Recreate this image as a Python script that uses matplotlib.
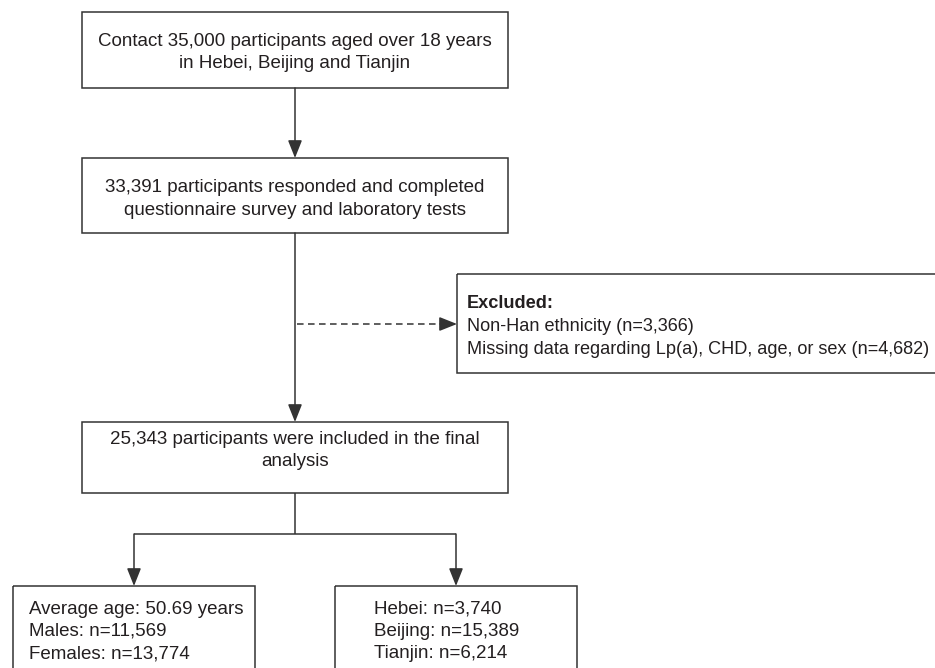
import matplotlib
matplotlib.use("Agg")
import matplotlib.pyplot as plt
from matplotlib.patches import Rectangle

plt.rcParams['font.family'] = ['Liberation Sans', 'DejaVu Sans']

# ---- content ----
box1_text = ["Contact 35,000 participants aged over 18 years", "in Hebei, Beijing and Tianjin"]
box2_text = ["33,391 participants responded and completed", "questionnaire survey and laboratory tests"]
excl_title = "Excluded:"
excl_text = ["Non-Han ethnicity (n=3,366)", "Missing data regarding Lp(a), CHD, age, or sex (n=4,682)"]
box3_text = ["25,343 participants were included in the final", "analysis"]
box4_text = ["Average age: 50.69 years", "Males: n=11,569", "Females: n=13,774"]
box5_text = ["Hebei: n=3,740", "Beijing: n=15,389", "Tianjin: n=6,214"]

W, H = 935, 668
fig = plt.figure(figsize=(W / 100, H / 100), dpi=100)
ax = fig.add_axes([0, 0, 1, 1])
ax.set_xlim(0, W)
ax.set_ylim(H, 0)
ax.axis('off')

LC = '#333333'
TC = '#231f20'
LW = 1.1
FS = 13.5
LS = 1.4

def box(x0, y0, x1, y1):
    ax.add_patch(Rectangle((x0, y0), x1 - x0, y1 - y0, fill=False,
                           edgecolor=LC, linewidth=LW, clip_on=True))

def arrow(x0, y0, x1, y1):
    ax.annotate('', xy=(x1, y1), xytext=(x0, y0),
                arrowprops=dict(arrowstyle='-|>,head_length=1.08,head_width=0.43',
                                mutation_scale=10, color=LC, lw=LW,
                                shrinkA=0, shrinkB=0))

def line(xs, ys, **kw):
    ax.plot(xs, ys, color=LC, lw=LW, solid_capstyle='butt', **kw)

# boxes
box(82, 12, 508, 88)
box(82, 158, 508, 233)
box(457, 274, 1000, 373)
box(82, 422, 508, 493)
box(13, 586, 255, 700)
box(335, 586, 577, 700)

# texts
ax.text(295, 52.5, "\n".join(box1_text), ha='center', va='center', fontsize=FS,
        color=TC, linespacing=LS)
ax.text(295, 199, "\n".join(box2_text), ha='center', va='center', fontsize=FS,
        color=TC, linespacing=LS)
ax.text(295, 450.5, "\n".join(box3_text), ha='center', va='center', fontsize=FS,
        color=TC, linespacing=LS)
ax.text(467, 304, excl_title, ha='left', va='center', fontsize=13.1,
        color=TC, fontweight='bold')
ax.text(467, 338, "\n".join(excl_text), ha='left', va='center', fontsize=13.1,
        color=TC, linespacing=1.42)
ax.text(29, 631.5, "\n".join(box4_text), ha='left', va='center', fontsize=FS,
        color=TC, linespacing=LS)
ax.text(374, 631.5, "\n".join(box5_text), ha='left', va='center', fontsize=FS,
        color=TC, linespacing=LS)

# connectors
arrow(295, 88, 295, 158)
arrow(295, 233, 295, 422)
line([297, 441], [324, 324], linestyle=(0, (4.3, 2.9)))
arrow(440, 324, 457, 324)
line([295, 295], [493, 534])
line([134, 456], [534, 534])
arrow(134, 534, 134, 586)
arrow(456, 534, 456, 586)

fig.savefig('out.png', dpi=100)
